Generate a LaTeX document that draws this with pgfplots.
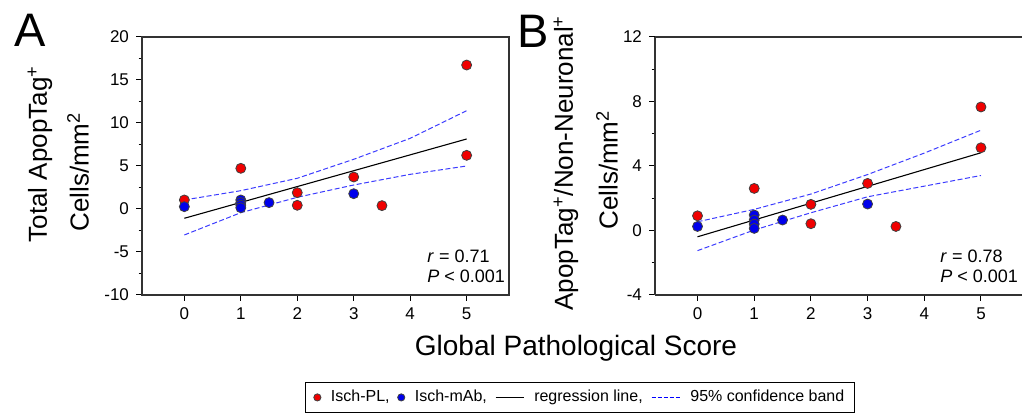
\documentclass[border=0pt]{standalone}
\usepackage{fontspec}
\setmainfont{Liberation Sans}
\usepackage{pgfplots}
\pgfplotsset{compat=1.18}

\definecolor{ptred}{RGB}{240,0,0}
\definecolor{ptblue}{RGB}{0,0,235}
\definecolor{cbblue}{RGB}{60,60,255}

\pgfplotsset{
  panel/.style={
    scale only axis,
    xmin=-0.75, xmax=5.75,
    xtick={0,...,5},
    height=129pt,
    tick align=outside,
    tick pos=left,
    major tick length=3pt,
    minor tick length=1.75pt,
    minor y tick num=1,
    every tick/.style={black, line width=0.5pt},
    axis line style={black!80, line width=0.6pt},
    tick label style={font=\fontsize{8.5}{10}\selectfont},
    /pgf/number format/assume math mode=true,
    clip=false,
  },
  dot/.style={only marks, mark=*, mark size=2.5pt,
    mark options={draw=black!75, line width=0.4pt}},
  reg/.style={black, line width=0.55pt},
  cb/.style={draw=cbblue, line width=0.5pt, dash pattern=on 2.5pt off 1.25pt},
}

% panel A
\pgfplotstableread{
x y
0 1.05
1 4.73
2 1.90
2 0.43
3 3.72
3.5 0.39
5 16.74
5 6.24
}\redA
\pgfplotstableread{
x y
0 0.27
1 1.05
1 0.75
1 0.45
1 0.15
1.5 0.74
3 1.78
}\blueA
% panel B
\pgfplotstableread{
x y
0 0.91
1 2.61
2 1.62
2 0.42
3 2.92
3.5 0.25
5 7.66
5 5.13
}\redB
\pgfplotstableread{
x y
0 0.25
1 0.96
1 0.65
1 0.40
1 0.13
1.5 0.65
3 1.64
}\blueB

\begin{document}
\begin{tikzpicture}
\path[use as bounding box] (0,0) rectangle (511pt,208pt);

\begin{axis}[panel,
  at={(71pt,60.5pt)}, anchor=south west,
  width=183.5pt,
  ymin=-10, ymax=20, ytick={-10,-5,...,20},
  legend columns=4,
  legend style={at={(1.1935,-0.397)}, anchor=center, draw=black, line width=0.6pt,
    font=\fontsize{8}{9}\selectfont, inner xsep=4pt, inner ysep=3pt,
    nodes={inner sep=1pt},
    /tikz/every odd column/.append style={column sep=4pt},
    /tikz/every even column/.append style={column sep=3pt}},
]
\addplot[cb, forget plot] coordinates {(0,1.05) (1,2.13) (2,3.57) (3,5.78) (4,8.22) (5,11.43)};
\addplot[cb, forget plot] coordinates {(0,-3.02) (1,-0.43) (2,1.36) (3,2.79) (4,4.03) (5,5.0)};
\addplot[reg, forget plot] coordinates {(0,-1.08) (5,8.14)};
\addplot[dot, fill=ptred, forget plot] table {\redA};
\addplot[dot, fill=ptblue, forget plot] table {\blueA};
\addlegendimage{only marks, mark=*, mark size=1.8pt, mark options={fill=ptred, draw=black!75, line width=0.4pt},
  legend image code/.code={\draw plot coordinates {(0pt,0pt)};}}
\addlegendentry{Isch-PL,}
\addlegendimage{only marks, mark=*, mark size=1.8pt, mark options={fill=ptblue, draw=black!75, line width=0.4pt},
  legend image code/.code={\draw plot coordinates {(0pt,0pt)};}}
\addlegendentry{Isch-mAb,}
\addlegendimage{draw=black, line width=0.7pt, legend image code/.code={\draw (0pt,0pt) -- (14pt,0pt);}}
\addlegendentry{regression line,}
\addlegendimage{draw=blue, line width=0.8pt, dash pattern=on 2pt off 1pt,
  legend image code/.code={\draw[draw=blue] (0pt,0pt) -- (14pt,0pt);}}
\addlegendentry{95\% confidence band}
\end{axis}

\begin{axis}[panel,
  at={(327.5pt,60.5pt)}, anchor=south west,
  width=184.25pt,
  axis x line*=box, axis y line*=left,
  ymin=-4, ymax=12, ytick={-4,0,4,8,12},
]
\addplot[cb] coordinates {(0,0.54) (1,1.31) (2,2.26) (3,3.47) (4,4.8) (5,6.22)};
\addplot[cb] coordinates {(0,-1.25) (1,0.03) (2,1.1) (3,2.09) (4,2.75) (5,3.41)};
\addplot[reg] coordinates {(0,-0.39) (5,4.82)};
\addplot[dot, fill=ptred] table {\redB};
\addplot[dot, fill=ptblue] table {\blueB};
\end{axis}

% panel letters
\node[font=\fontsize{23.5}{26}\selectfont] at (15pt,193pt) {A};
\node[font=\fontsize{23.5}{26}\selectfont] at (266.5pt,192.5pt) {B};

% y labels
\node[rotate=90, font=\fontsize{13}{15}\selectfont] at (20pt,131pt) {Total ApopTag\textsuperscript{+}};
\node[rotate=90, font=\fontsize{13}{15}\selectfont] at (39pt,122pt) {Cells/mm\textsuperscript{2}};
\node[rotate=90, font=\fontsize{13}{15}\selectfont] at (283pt,126.5pt) {ApopTag\textsuperscript{+}/Non-Neuronal\textsuperscript{+}};
\node[rotate=90, font=\fontsize{13}{15}\selectfont] at (303.5pt,123pt) {Cells/mm\textsuperscript{2}};

% x label
\node[font=\fontsize{14}{16}\selectfont] at (288pt,34pt) {Global Pathological Score};

% statistics
\node[anchor=base west, inner sep=0pt, font=\fontsize{9}{10}\selectfont] at (213.5pt,76.5pt) {\textit{r} = 0.71};
\node[anchor=base west, inner sep=0pt, font=\fontsize{9}{10}\selectfont] at (213.5pt,66.5pt) {\textit{P} < 0.001};
\node[anchor=base west, inner sep=0pt, font=\fontsize{9}{10}\selectfont] at (470pt,76.5pt) {\textit{r} = 0.78};
\node[anchor=base west, inner sep=0pt, font=\fontsize{9}{10}\selectfont] at (470pt,66.5pt) {\textit{P} < 0.001};
\end{tikzpicture}
\end{document}
